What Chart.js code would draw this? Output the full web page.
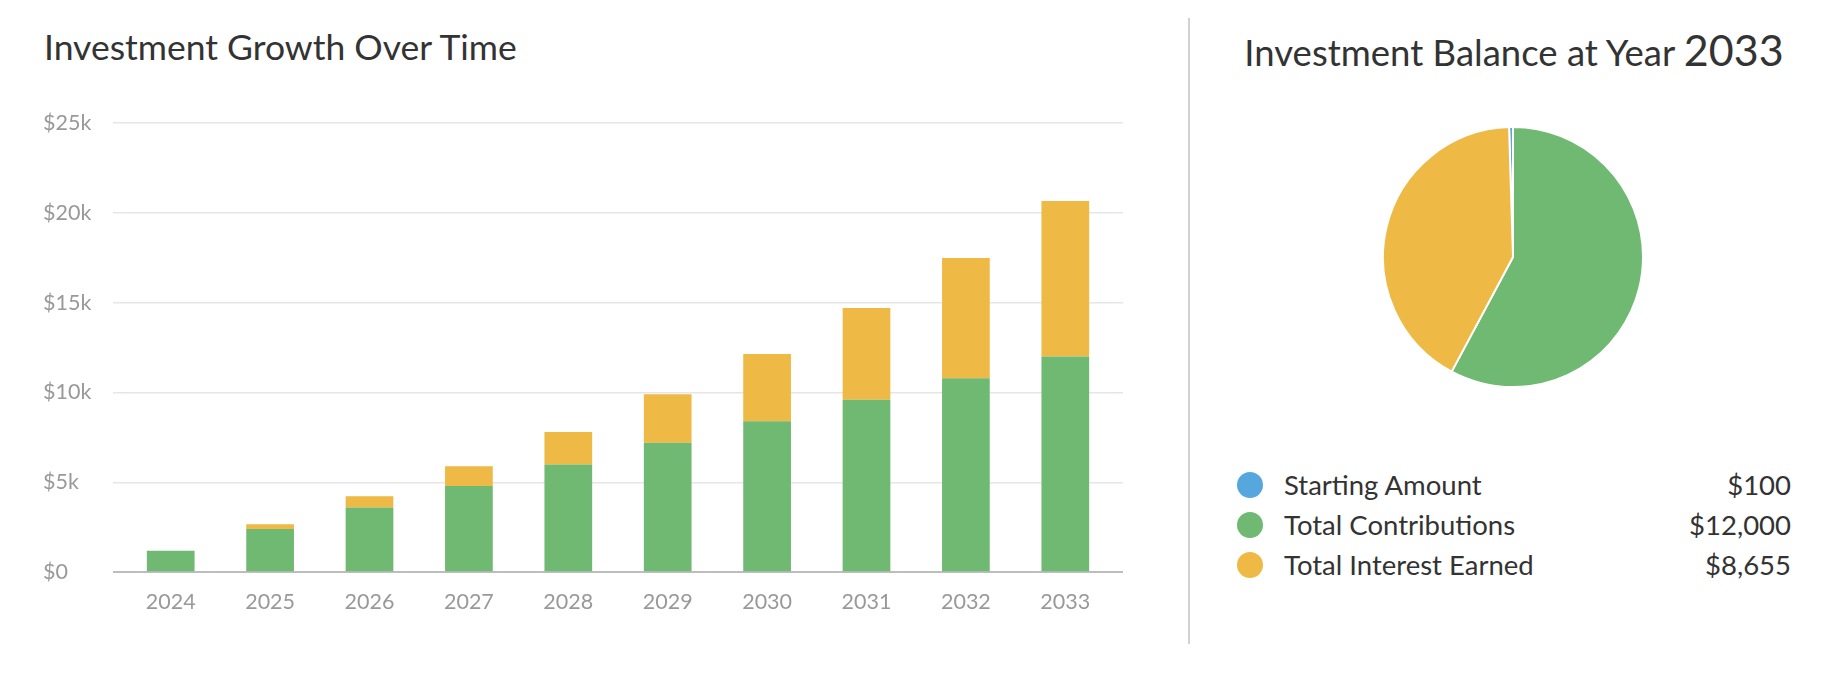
<!DOCTYPE html>
<html>
<head>
<meta charset="utf-8">
<script src="https://cdn.jsdelivr.net/npm/chart.js@4.4.1/dist/chart.umd.min.js"></script>
<style>
  html, body { margin:0; padding:0; background:#fff; width:1844px; height:686px; overflow:hidden;
    font-family: Lato, "Open Sans", sans-serif; color:#333; }
  #barWrap { position:absolute; left:0; top:0; width:1160px; height:686px; }
  #pieWrap { position:absolute; left:1382px; top:126px; width:262px; height:262px; }
  .title { position:absolute; white-space:nowrap; line-height:1; color:#333; font-weight:400; }
  #t1 { left:44px; top:29px; font-size:35.5px; }
  #t2 { left:1214px; width:600px; text-align:center; top:28px; font-size:36.5px; }
  #t2 .yr { font-size:43px; }
  #divider { position:absolute; left:1188px; top:18px; width:2px; height:626px; background:#d2d2d2; }
  .leg { position:absolute; left:1237px; width:554px; height:40px; font-size:27.5px; line-height:40px; color:#333; }
  .leg .dot { position:absolute; left:0; top:7px; width:26px; height:26px; border-radius:50%; }
  .leg .lab { position:absolute; left:47px; top:0; }
  .leg .val { position:absolute; right:0; top:0; }
</style>
</head>
<body>
<div class="title" id="t1">Investment Growth Over Time</div>
<div class="title" id="t2">Investment Balance at Year <span class="yr" id="yr"></span></div>
<div id="divider"></div>
<div id="barWrap"><canvas id="bar"></canvas></div>
<div id="pieWrap"><canvas id="pie"></canvas></div>
<div id="legend"></div>
<script>
// ---- data ----
const years = ['2024','2025','2026','2027','2028','2029','2030','2031','2032','2033'];
const contributions = [1200, 2400, 3600, 4800, 6000, 7200, 8400, 9600, 10800, 12000];
const interest = [0, 270, 630, 1100, 1800, 2710, 3740, 5100, 6680, 8655];
const yTickValues = [0, 5000, 10000, 15000, 20000, 25000];
const yTickLabels = ['$0', '$5k', '$10k', '$15k', '$20k', '$25k'];
const pieLabels = ['Starting Amount', 'Total Contributions', 'Total Interest Earned'];
const pieValues = [100, 12000, 8655];
const pieValueLabels = ['$100', '$12,000', '$8,655'];
const balanceYear = '2033';

const GREEN = '#6fb973', YELLOW = '#efb945', BLUE = '#56a7dd';
const pieColors = [BLUE, GREEN, YELLOW];

document.getElementById('yr').textContent = balanceYear;

const gridColor = ctx => (ctx.tick && ctx.tick.value === 0) ? '#bdbdbd' : '#e6e6e6';
const gridWidth = ctx => (ctx.tick && ctx.tick.value === 0) ? 2 : 1.5;
const setTicks = s => { s.ticks = yTickValues.map(v => ({ value: v })); };

new Chart(document.getElementById('bar'), {
  type: 'bar',
  data: {
    labels: years,
    datasets: [
      { label: 'Total Contributions', data: contributions, backgroundColor: GREEN },
      { label: 'Total Interest Earned', data: interest, backgroundColor: YELLOW }
    ]
  },
  options: {
    responsive: true, maintainAspectRatio: false, animation: false,
    layout: { padding: { left: 43, right: 37, top: 123, bottom: 62 } },
    plugins: { legend: { display: false }, tooltip: { enabled: false }, title: { display: false } },
    datasets: { bar: { barPercentage: 0.8, categoryPercentage: 0.6 } },
    scales: {
      x: {
        stacked: true,
        grid: { display: false },
        border: { display: false },
        ticks: { color: '#999', font: { family: 'Lato', size: 21.5 }, padding: 9 }
      },
      y: {
        stacked: true, min: 0, max: 25000,
        afterBuildTicks: setTicks,
        afterFit: s => { s.width = 78; },
        border: { display: false },
        grid: { color: gridColor, lineWidth: gridWidth, drawTicks: true, tickLength: 8 },
        ticks: {
          crossAlign: 'far', color: '#999', font: { family: 'Lato', size: 21.5 },
          callback: v => yTickLabels[yTickValues.indexOf(v)]
        }
      },
      y2: {
        position: 'right', min: 0, max: 25000,
        afterBuildTicks: setTicks,
        border: { display: false },
        grid: { color: gridColor, lineWidth: gridWidth, drawOnChartArea: false, drawTicks: true, tickLength: 8 },
        ticks: { display: false }
      }
    }
  }
});

const total = pieValues.reduce((a, b) => a + b, 0);
new Chart(document.getElementById('pie'), {
  type: 'pie',
  data: {
    labels: pieLabels,
    datasets: [{ data: pieValues, backgroundColor: pieColors, borderColor: '#fff', borderWidth: 2 }]
  },
  options: {
    responsive: true, maintainAspectRatio: false, animation: false,
    rotation: -(pieValues[0] / total) * 360,
    plugins: { legend: { display: false }, tooltip: { enabled: false } }
  }
});

const legend = document.getElementById('legend');
const rowTops = [465, 505, 545];
pieLabels.forEach((lab, i) => {
  const row = document.createElement('div');
  row.className = 'leg';
  row.style.top = rowTops[i] + 'px';
  row.innerHTML = '<span class="dot" style="background:' + pieColors[i] + '"></span>' +
    '<span class="lab"></span><span class="val"></span>';
  row.querySelector('.lab').textContent = lab;
  row.querySelector('.val').textContent = pieValueLabels[i];
  legend.appendChild(row);
});
</script>
</body>
</html>
